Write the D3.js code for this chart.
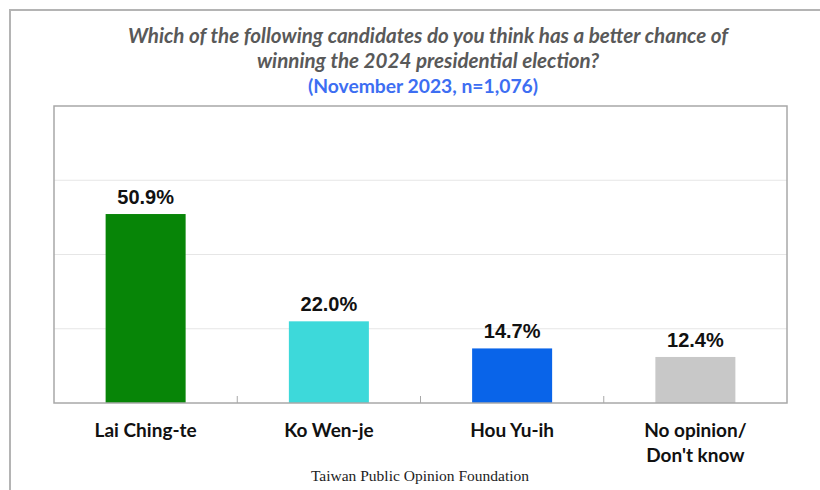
<!doctype html>
<html>
<head>
<meta charset="utf-8">
<title>2024 presidential election</title>
<style>
body { margin: 0; background: #fff; }
svg { display: block; }
</style>
</head>
<body>
<svg></svg>
<script src="https://cdn.jsdelivr.net/npm/d3@7"></script>
<script>
  var categories = ['Lai Ching-te', 'Ko Wen-je', 'Hou Yu-ih', 'No opinion/\nDon\'t know'];
  var values = [50.9, 22.0, 14.7, 12.4];
  var barColors = ['#078507', '#3dd9da', '#0964e9', '#c8c8c8'];
  var gridValues = [20, 40, 60];
  var titleLines = ['Which of the following candidates do you think has a better chance of',
                    'winning the 2024 presidential election?'];
  var subtitle = '(November 2023, n=1,076)';
  var source = 'Taiwan Public Opinion Foundation';

  var width = 820, height = 490;
  var plot = {left: 54, top: 106, right: 787, bottom: 403};

  var svg = d3.select('svg')
      .attr('width', width)
      .attr('height', height);

  // outer frame (right/bottom edges fall outside the picture)
  svg.append('rect')
      .attr('x', 10).attr('y', 10)
      .attr('width', 830).attr('height', 500)
      .attr('fill', 'none')
      .attr('stroke', '#b4b4b4')
      .attr('stroke-width', 2);

  var x = d3.scaleBand()
      .domain(categories)
      .range([plot.left, plot.right])
      .paddingInner(0.5634)
      .paddingOuter(0.2817);

  var y = d3.scaleLinear()
      .domain([0, 80])
      .range([plot.bottom, plot.top]);

  // gridlines
  svg.append('g').selectAll('line')
      .data(gridValues)
      .enter()
      .append('line')
      .attr('x1', plot.left).attr('x2', plot.right)
      .attr('y1', function (d) { return y(d); })
      .attr('y2', function (d) { return y(d); })
      .attr('stroke', '#e6e6e6')
      .attr('stroke-width', 1);

  // bars
  svg.append('g').selectAll('rect')
      .data(values)
      .enter()
      .append('rect')
      .attr('x', function (d, i) { return x(categories[i]); })
      .attr('y', function (d) { return y(d); })
      .attr('width', x.bandwidth())
      .attr('height', function (d) { return y(0) - y(d); })
      .attr('fill', function (d, i) { return barColors[i]; });

  // plot border
  svg.append('rect')
      .attr('x', plot.left).attr('y', plot.top)
      .attr('width', plot.right - plot.left)
      .attr('height', plot.bottom - plot.top)
      .attr('fill', 'none')
      .attr('stroke', '#a8a8a8')
      .attr('stroke-width', 1.5);

  // small ticks between categories
  var step = x.step();
  svg.append('g').selectAll('line')
      .data(categories.slice(1))
      .enter()
      .append('line')
      .attr('x1', function (d) { return x(d) - (step - x.bandwidth()) / 2; })
      .attr('x2', function (d) { return x(d) - (step - x.bandwidth()) / 2; })
      .attr('y1', plot.bottom)
      .attr('y2', plot.bottom - 7)
      .attr('stroke', '#a8a8a8')
      .attr('stroke-width', 1);

  // value labels
  svg.append('g').selectAll('text')
      .data(values)
      .enter()
      .append('text')
      .attr('x', function (d, i) { return x(categories[i]) + x.bandwidth() / 2; })
      .attr('y', function (d) { return y(d) - 10; })
      .attr('text-anchor', 'middle')
      .attr('fill', '#111')
      .style('font-family', '"Liberation Sans", Arial, sans-serif')
      .style('font-weight', 'bold')
      .style('font-size', '20px')
      .text(function (d) { return d.toFixed(1) + '%'; });

  // category labels
  var cat = svg.append('g').selectAll('text')
      .data(categories)
      .enter()
      .append('text')
      .attr('text-anchor', 'middle')
      .attr('fill', '#111')
      .style('font-family', 'Lato, "Open Sans", sans-serif')
      .style('font-weight', 'bold')
      .style('font-size', '19px');
  cat.each(function (d) {
    var t = d3.select(this);
    d.split('\n').forEach(function (line, k) {
      t.append('tspan')
          .attr('x', x(d) + x.bandwidth() / 2)
          .attr('y', 437 + k * 25)
          .text(line);
    });
  });

  // title
  svg.append('g').selectAll('text')
      .data(titleLines)
      .enter()
      .append('text')
      .attr('x', 428)
      .attr('y', function (d, i) { return 43 + i * 25; })
      .attr('text-anchor', 'middle')
      .attr('fill', '#595959')
      .style('font-family', 'Lato, "Open Sans", sans-serif')
      .style('font-weight', 'bold')
      .style('font-style', 'italic')
      .style('font-size', '20.6px')
      .text(function (d) { return d; });

  svg.append('text')
      .attr('x', 423)
      .attr('y', 93)
      .attr('text-anchor', 'middle')
      .attr('fill', '#3d6ef2')
      .style('font-family', 'Lato, "Open Sans", sans-serif')
      .style('font-weight', 'bold')
      .style('font-size', '19.3px')
      .text(subtitle);

  svg.append('text')
      .attr('x', 420)
      .attr('y', 481)
      .attr('text-anchor', 'middle')
      .attr('fill', '#222')
      .style('font-family', '"Liberation Serif", "Times New Roman", serif')
      .style('font-size', '15.5px')
      .text(source);
</script>
</body>
</html>
